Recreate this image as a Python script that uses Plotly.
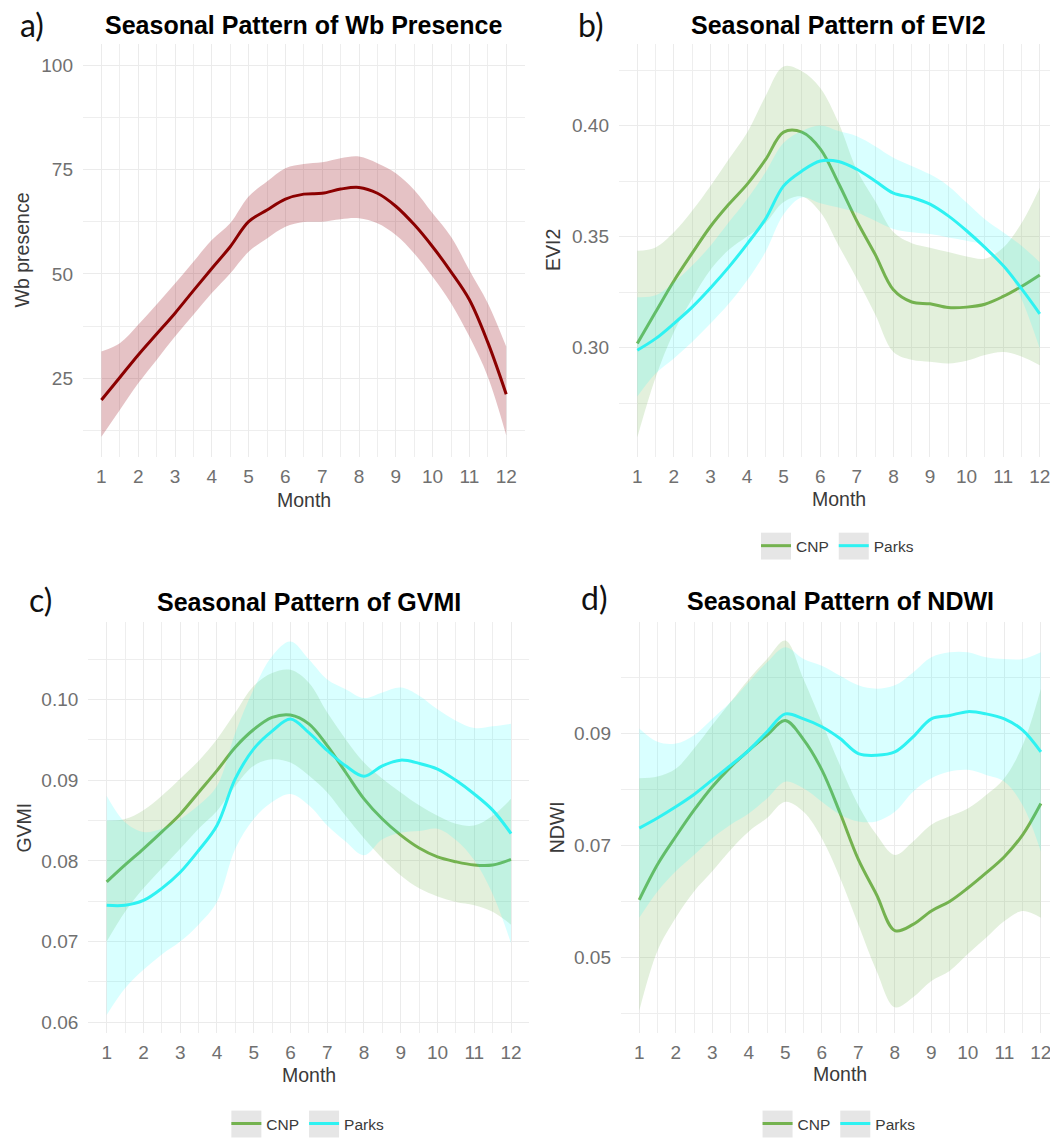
import plotly.graph_objects as go

W, H = 1050, 1141

# ---------------- data ----------------
month = [1, 1.5, 2, 2.5, 3, 3.5, 4, 4.5, 5, 5.5, 6, 6.5, 7, 7.5, 8, 8.5, 9, 9.5, 10, 10.5, 11, 11.5, 12]
month_ticks = [1, 2, 3, 4, 5, 6, 7, 8, 9, 10, 11, 12]
groups = ["CNP", "Parks"]

# a) Wb presence
wb_fit = [19.8, 25.2, 30.6, 35.6, 40.6, 46.0, 51.3, 56.5, 62.5, 65.3, 67.9, 69.1, 69.3, 70.3, 70.7, 69.3, 66.2, 61.8, 56.5, 50.5, 43.8, 33.6, 21.2]
wb_hi = [31.4, 33.4, 37.8, 42.7, 47.7, 52.9, 58.1, 62.1, 68.5, 72.1, 75.3, 76.3, 76.7, 77.7, 78.1, 76.5, 74.1, 70.1, 64.5, 58.9, 50.9, 43.0, 32.6]
wb_lo = [11.0, 17.4, 23.8, 29.4, 35.0, 40.2, 45.4, 50.1, 55.3, 58.5, 61.3, 62.4, 62.5, 63.1, 63.3, 62.1, 59.3, 54.9, 49.3, 43.0, 35.0, 25.4, 11.4]

# b) EVI2
evi2_cnp_fit = [0.3018, 0.3160, 0.3300, 0.3425, 0.3545, 0.3645, 0.3735, 0.3845, 0.3970, 0.3970, 0.3895, 0.3740, 0.3570, 0.3420, 0.3260, 0.3205, 0.3197, 0.3180, 0.3182, 0.3195, 0.3230, 0.3275, 0.3327]
evi2_cnp_hi = [0.3436, 0.3451, 0.3519, 0.3616, 0.3728, 0.3848, 0.3967, 0.4131, 0.4266, 0.4244, 0.4169, 0.4012, 0.3800, 0.3660, 0.3520, 0.3470, 0.3450, 0.3430, 0.3410, 0.3400, 0.3450, 0.3560, 0.3720]
evi2_cnp_lo = [0.2595, 0.2865, 0.3070, 0.3220, 0.3350, 0.3440, 0.3500, 0.3560, 0.3655, 0.3680, 0.3610, 0.3460, 0.3310, 0.3150, 0.2980, 0.2945, 0.2936, 0.2928, 0.2940, 0.2966, 0.2980, 0.2960, 0.2920]
evi2_parks_fit = [0.2988, 0.3040, 0.3108, 0.3182, 0.3268, 0.3362, 0.3466, 0.3578, 0.3728, 0.3795, 0.3840, 0.3838, 0.3803, 0.3750, 0.3695, 0.3676, 0.3646, 0.3593, 0.3526, 0.3451, 0.3369, 0.3265, 0.3152]
evi2_parks_hi = [0.3227, 0.3235, 0.3294, 0.3369, 0.3459, 0.3564, 0.3668, 0.3788, 0.3922, 0.3975, 0.4000, 0.3975, 0.3952, 0.3907, 0.3855, 0.3818, 0.3780, 0.3728, 0.3653, 0.3578, 0.3519, 0.3459, 0.3384]
evi2_parks_lo = [0.2779, 0.2883, 0.2951, 0.3025, 0.3108, 0.3197, 0.3302, 0.3429, 0.3600, 0.3676, 0.3650, 0.3631, 0.3608, 0.3571, 0.3534, 0.3519, 0.3511, 0.3496, 0.3481, 0.3459, 0.3384, 0.3220, 0.2996]

# c) GVMI
gvmi_cnp_fit = [0.0774, 0.0795, 0.0815, 0.0836, 0.0858, 0.0885, 0.0912, 0.0941, 0.0963, 0.0978, 0.0981, 0.0970, 0.0943, 0.0910, 0.0877, 0.0852, 0.0832, 0.0816, 0.0805, 0.0799, 0.0795, 0.0795, 0.0802]
gvmi_cnp_hi = [0.0850, 0.0852, 0.0863, 0.0881, 0.0902, 0.0924, 0.0951, 0.0984, 0.1017, 0.1033, 0.1037, 0.1021, 0.0984, 0.0951, 0.0922, 0.0902, 0.0885, 0.0869, 0.0856, 0.0846, 0.0844, 0.0856, 0.0877]
gvmi_cnp_lo = [0.0700, 0.0737, 0.0766, 0.0791, 0.0815, 0.0840, 0.0862, 0.0893, 0.0918, 0.0926, 0.0922, 0.0906, 0.0885, 0.0856, 0.0828, 0.0803, 0.0782, 0.0766, 0.0756, 0.0749, 0.0745, 0.0737, 0.0721]
gvmi_parks_fit = [0.0745, 0.0745, 0.0751, 0.0766, 0.0786, 0.0813, 0.0844, 0.0902, 0.0939, 0.0961, 0.0976, 0.0959, 0.0937, 0.0918, 0.0905, 0.0918, 0.0925, 0.0921, 0.0914, 0.0900, 0.0883, 0.0863, 0.0834]
gvmi_parks_hi = [0.0881, 0.0848, 0.0836, 0.0840, 0.0852, 0.0869, 0.0893, 0.0959, 0.1013, 0.1054, 0.1072, 0.1050, 0.1025, 0.1013, 0.1002, 0.1009, 0.1015, 0.1005, 0.0988, 0.0974, 0.0965, 0.0967, 0.0970]
gvmi_parks_lo = [0.0609, 0.0642, 0.0665, 0.0684, 0.0700, 0.0721, 0.0749, 0.0815, 0.0852, 0.0873, 0.0883, 0.0869, 0.0844, 0.0824, 0.0807, 0.0827, 0.0835, 0.0837, 0.0840, 0.0826, 0.0801, 0.0759, 0.0698]

# d) NDWI
ndwi_cnp_fit = [0.0603, 0.0666, 0.0716, 0.0763, 0.0805, 0.0840, 0.0870, 0.0897, 0.0923, 0.0889, 0.0835, 0.0758, 0.0675, 0.0612, 0.0548, 0.0559, 0.0583, 0.0600, 0.0624, 0.0651, 0.0680, 0.0719, 0.0775]
ndwi_cnp_hi = [0.0820, 0.0823, 0.0837, 0.0873, 0.0915, 0.0956, 0.0997, 0.1033, 0.1066, 0.0997, 0.0920, 0.0843, 0.0772, 0.0719, 0.0683, 0.0707, 0.0737, 0.0752, 0.0766, 0.0790, 0.0820, 0.0879, 0.0980]
ndwi_cnp_lo = [0.0405, 0.0512, 0.0571, 0.0618, 0.0654, 0.0692, 0.0725, 0.0749, 0.0778, 0.0760, 0.0713, 0.0642, 0.0559, 0.0476, 0.0411, 0.0429, 0.0458, 0.0476, 0.0506, 0.0535, 0.0565, 0.0583, 0.0571]
ndwi_parks_fit = [0.0731, 0.0749, 0.0769, 0.0791, 0.0817, 0.0843, 0.0870, 0.0903, 0.0935, 0.0926, 0.0912, 0.0891, 0.0864, 0.0861, 0.0867, 0.0894, 0.0926, 0.0932, 0.0939, 0.0935, 0.0926, 0.0906, 0.0867]
ndwi_parks_hi = [0.0909, 0.0885, 0.0882, 0.0897, 0.0926, 0.0956, 0.0992, 0.1027, 0.1054, 0.1033, 0.1021, 0.1003, 0.0986, 0.0980, 0.0986, 0.1009, 0.1036, 0.1045, 0.1045, 0.1036, 0.1033, 0.1033, 0.1045]
ndwi_parks_lo = [0.0571, 0.0618, 0.0654, 0.0683, 0.0713, 0.0737, 0.0757, 0.0784, 0.0814, 0.0802, 0.0778, 0.0755, 0.0743, 0.0743, 0.0760, 0.0796, 0.0820, 0.0832, 0.0835, 0.0826, 0.0814, 0.0772, 0.0689]

# ---------------- styling ----------------
FONT = "Liberation Sans, Arial, sans-serif"
LABEL_FONT = "Lato, Open Sans, sans-serif"
TICK_COLOR = "#707070"
TITLE_AX_COLOR = "#3A3A3A"
GRID = "#EBEBEB"
GRID_MINOR = "#EEEEEE"

RED = "#8B0000"
RED_FILL = "rgba(150,10,25,0.25)"
GREEN = "#74B24F"
GREEN_FILL = "rgba(116,178,80,0.20)"
CYAN = "#2EF2F2"
CYAN_FILL = "rgba(0,255,255,0.15)"


def px_x(p):
    return p / W


def px_y(p):
    return 1 - p / H


# plot-area boxes (pixels)
panels = {
    "a": dict(x0=83.0, x1=524.6, y0=44.0, y1=459.0, xr=[0.5, 12.5], yr=[6.17, 105.08]),
    "b": dict(x0=619.0, x1=1050.0, y0=44.0, y1=459.0, xr=[0.5, 12.28], yr=[0.2507, 0.4368]),
    "c": dict(x0=88.3, x1=529.4, y0=625.0, y1=1037.5, xr=[0.5, 12.5], yr=[0.05867, 0.1096]),
    "d": dict(x0=621.0, x1=1050.0, y0=625.0, y1=1037.5, xr=[0.5, 12.25], yr=[0.03652, 0.10986]),
}
yticks = {
    "a": dict(tick0=0, dtick=25, mtick0=12.5, mdtick=25, fmt="d"),
    "b": dict(tick0=0.30, dtick=0.05, mtick0=0.275, mdtick=0.05, fmt=".2f"),
    "c": dict(tick0=0.06, dtick=0.01, mtick0=0.055, mdtick=0.01, fmt=".2f"),
    "d": dict(tick0=0.05, dtick=0.02, mtick0=0.04, mdtick=0.02, fmt=".2f"),
}
axis_ids = {"a": ("x", "y"), "b": ("x2", "y2"), "c": ("x3", "y3"), "d": ("x4", "y4")}

fig = go.Figure()


def band(panel, lo, hi, fill):
    xa, ya = axis_ids[panel]
    fig.add_trace(go.Scatter(x=month, y=lo, mode="lines", line=dict(width=0, shape="spline"),
                             xaxis=xa, yaxis=ya, showlegend=False, hoverinfo="skip"))
    fig.add_trace(go.Scatter(x=month, y=hi, mode="lines", line=dict(width=0, shape="spline"),
                             fill="tonexty", fillcolor=fill,
                             xaxis=xa, yaxis=ya, showlegend=False, hoverinfo="skip"))


def fit_line(panel, y, color, name=None, legend=None):
    xa, ya = axis_ids[panel]
    fig.add_trace(go.Scatter(x=month, y=y, mode="lines", name=name,
                             line=dict(color=color, width=3, shape="spline"),
                             xaxis=xa, yaxis=ya,
                             showlegend=legend is not None,
                             legend=legend if legend else "legend"))


# a
band("a", wb_lo, wb_hi, RED_FILL)
fit_line("a", wb_fit, RED)
# b
band("b", evi2_cnp_lo, evi2_cnp_hi, GREEN_FILL)
fit_line("b", evi2_cnp_fit, GREEN, groups[0], "legend2")
band("b", evi2_parks_lo, evi2_parks_hi, CYAN_FILL)
fit_line("b", evi2_parks_fit, CYAN, groups[1], "legend2")
# c
band("c", gvmi_cnp_lo, gvmi_cnp_hi, GREEN_FILL)
fit_line("c", gvmi_cnp_fit, GREEN, groups[0], "legend3")
band("c", gvmi_parks_lo, gvmi_parks_hi, CYAN_FILL)
fit_line("c", gvmi_parks_fit, CYAN, groups[1], "legend3")
# d
band("d", ndwi_cnp_lo, ndwi_cnp_hi, GREEN_FILL)
fit_line("d", ndwi_cnp_fit, GREEN, groups[0], "legend4")
band("d", ndwi_parks_lo, ndwi_parks_hi, CYAN_FILL)
fit_line("d", ndwi_parks_fit, CYAN, groups[1], "legend4")

layout = dict(
    width=W, height=H, margin=dict(l=0, r=0, t=0, b=0),
    paper_bgcolor="white", plot_bgcolor="white",
    font=dict(family=FONT),
    showlegend=True,
)

for key, (xa, ya) in axis_ids.items():
    p = panels[key]
    yt = yticks[key]
    xname = "xaxis" + xa[1:]
    yname = "yaxis" + ya[1:]
    layout[xname] = dict(
        domain=[px_x(p["x0"]), px_x(p["x1"])], range=p["xr"], anchor=ya,
        tickmode="array", tickvals=month_ticks, ticktext=[str(m) for m in month_ticks],
        showgrid=True, gridcolor=GRID, gridwidth=1.2,
        minor=dict(tick0=0.5, dtick=1, showgrid=True, gridcolor=GRID_MINOR, gridwidth=1.0, ticks=""),
        zeroline=False, showline=False, ticks="",
        tickfont=dict(size=19, color=TICK_COLOR, family=FONT),
        ticklabelstandoff=6, ticklabeloverflow="allow", fixedrange=True,
    )
    layout[yname] = dict(
        domain=[px_y(p["y1"]), px_y(p["y0"])], range=p["yr"], anchor=xa,
        tickmode="linear", tick0=yt["tick0"], dtick=yt["dtick"], tickformat=yt["fmt"],
        showgrid=True, gridcolor=GRID, gridwidth=1.2,
        minor=dict(tick0=yt["mtick0"], dtick=yt["mdtick"], showgrid=True,
                   gridcolor=GRID_MINOR, gridwidth=1.0, ticks=""),
        zeroline=False, showline=False, ticks="",
        tickfont=dict(size=19, color=TICK_COLOR, family=FONT),
        ticklabelstandoff=9, fixedrange=True,
    )

# legends (b, c, d)
legend_specs = {"legend2": ("b", 548.5), "legend3": ("c", 1129.0), "legend4": ("d", 1129.0)}
shapes = []
for lg, (key, yc) in legend_specs.items():
    p = panels[key]
    full_right = p["x0"] + (12.5 - 0.5) * (p["x1"] - p["x0"]) / (p["xr"][1] - p["xr"][0])
    center = (p["x0"] + full_right) / 2
    left = center - 82.5
    layout[lg] = dict(
        orientation="h", x=px_x(left), xanchor="left", y=px_y(yc), yanchor="middle",
        bgcolor="rgba(0,0,0,0)", borderwidth=0, itemwidth=30,
        font=dict(size=15.5, color="#3A3A3A", family=FONT),
        itemclick=False, itemdoubleclick=False,
    )
    # grey legend-key backgrounds behind the two key symbols
    cnp_w = 2.111 * 15.5
    for kx in (left + 5, left + 50 + cnp_w):
        shapes.append(dict(type="rect", xref="paper", yref="paper",
                           x0=px_x(kx), x1=px_x(kx + 30), y0=px_y(yc + 13.5), y1=px_y(yc - 13.5),
                           fillcolor="#E6E6E6", line=dict(width=0), layer="below"))
layout["shapes"] = shapes

annotations = []
titles = {"a": "Seasonal Pattern of Wb Presence", "b": "Seasonal Pattern of EVI2",
          "c": "Seasonal Pattern of GVMI", "d": "Seasonal Pattern of NDWI"}
title_y = {"a": 25, "b": 25, "c": 605, "d": 604}
ylabels = {"a": ("Wb presence", 22), "b": ("EVI2", 553.5), "c": ("GVMI", 24), "d": ("NDWI", 556.7)}
month_y = {"a": 502, "b": 501, "c": 1080, "d": 1079}
letters = {"a": ("a)", 31.7, 25), "b": ("b)", 591, 25), "c": ("c)", 40, 602), "d": ("d)", 594, 600)}

for key in ["a", "b", "c", "d"]:
    p = panels[key]
    full_right = p["x0"] + (12.5 - 0.5) * (p["x1"] - p["x0"]) / (p["xr"][1] - p["xr"][0])
    cx = (p["x0"] + full_right) / 2
    cy = (p["y0"] + p["y1"]) / 2
    annotations.append(dict(text="<b>" + titles[key] + "</b>", x=px_x(cx), y=px_y(title_y[key]),
                            xref="paper", yref="paper", xanchor="center", yanchor="middle",
                            showarrow=False, font=dict(size=25, color="#000000", family=FONT)))
    annotations.append(dict(text="Month", x=px_x(cx), y=px_y(month_y[key]),
                            xref="paper", yref="paper", xanchor="center", yanchor="middle",
                            showarrow=False, font=dict(size=19.5, color=TITLE_AX_COLOR, family=FONT)))
    lab, lx = ylabels[key]
    annotations.append(dict(text=lab, x=px_x(lx), y=px_y(cy), textangle=-90,
                            xref="paper", yref="paper", xanchor="center", yanchor="middle",
                            showarrow=False, font=dict(size=19.5, color=TITLE_AX_COLOR, family=FONT)))
    t, tx, ty = letters[key]
    annotations.append(dict(text=t, x=px_x(tx), y=px_y(ty),
                            xref="paper", yref="paper", xanchor="center", yanchor="middle",
                            showarrow=False, font=dict(size=32, color="#111111", family=LABEL_FONT)))
layout["annotations"] = annotations

fig.update_layout(**layout)
# remove the browser's default 8px page margin so the figure fills the window exactly
fig.write_html("out.html", config={"displayModeBar": False},
               post_script="document.body.style.margin='0';document.body.style.overflow='hidden';")
